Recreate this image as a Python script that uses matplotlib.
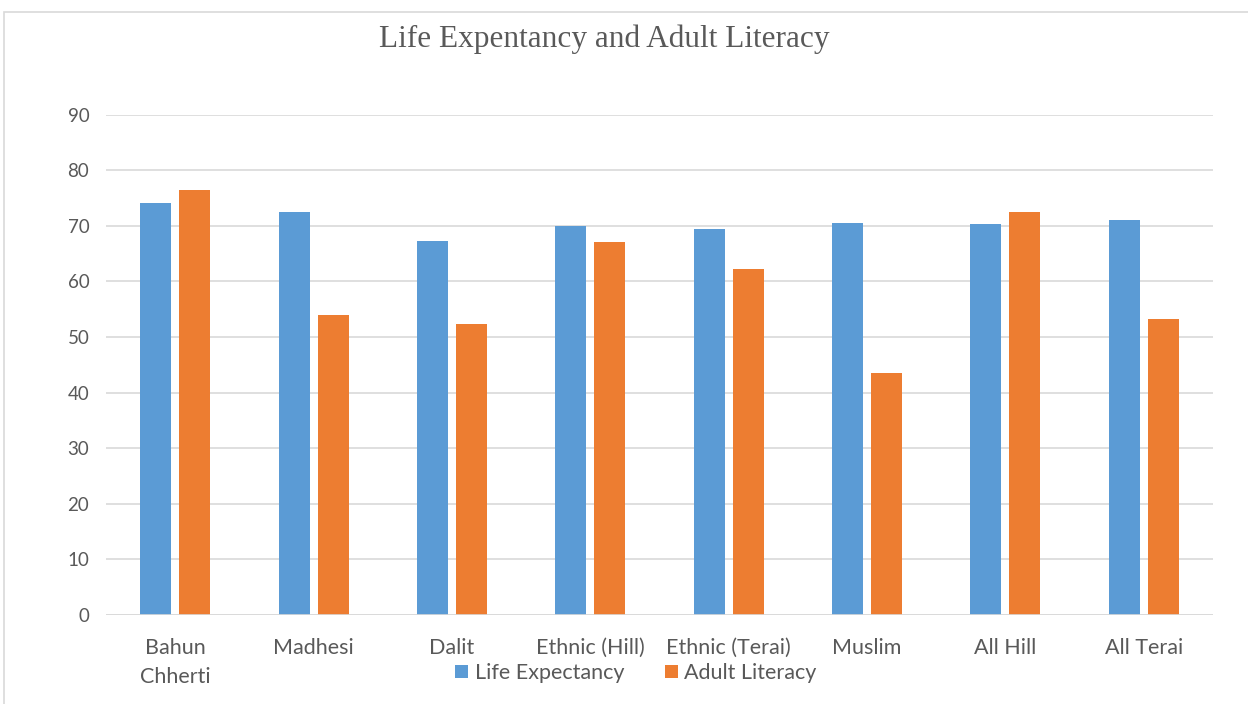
import matplotlib
matplotlib.use("Agg")
import matplotlib.pyplot as plt
import numpy as np
from matplotlib.patches import Rectangle, Patch

categories = ["Bahun\nChherti", "Madhesi", "Dalit", "Ethnic (Hill)", "Ethnic (Terai)",
              "Muslim", "All Hill", "All Terai"]
life_expectancy = [74.0, 72.4, 67.3, 69.9, 69.5, 70.5, 70.3, 71.0]
adult_literacy = [76.4, 53.9, 52.3, 67.0, 62.2, 43.5, 72.4, 53.3]
y_ticks = [0, 10, 20, 30, 40, 50, 60, 70, 80, 90]

BLUE = "#5B9BD5"
ORANGE = "#ED7D31"
TXT = "#595959"
GRID = "#D9D9D9"

plt.rcParams['font.family'] = ['Lato', 'DejaVu Sans']

W, H = 1248, 704
fig = plt.figure(figsize=(W / 100, H / 100), dpi=100)
fig.patch.set_facecolor("white")

# chart border
fig.patches.append(Rectangle((4 / W, -0.05), 1.1, (H - 12) / H + 0.05, transform=fig.transFigure,
                             fill=False, edgecolor=GRID, linewidth=1.2, zorder=0))

left, right = 106, 1213
top, bottom = 114.5, 615
ax = fig.add_axes([left / W, 1 - bottom / H, (right - left) / W, (bottom - top) / H])

x = np.arange(len(categories))
bw = 0.224
off = 0.141
ax.bar(x - off, life_expectancy, bw, color=BLUE, label="Life Expectancy", zorder=3)
ax.bar(x + off, adult_literacy, bw, color=ORANGE, label="Adult Literacy", zorder=3)

ax.set_xlim(-0.5, len(categories) - 0.5)
ax.set_ylim(0, 90)
ax.set_yticks(y_ticks)
ax.set_xticks(x)
ax.set_xticklabels(categories)
ax.tick_params(axis="y", length=0, labelsize=13.5, colors=TXT, pad=12)
ax.tick_params(axis="x", length=0, labelsize=15.5, colors=TXT, pad=16.5)
for lbl in ax.get_xticklabels():
    lbl.set_linespacing(1.55)
    lbl.set_verticalalignment("top")
ax.grid(axis="y", color=GRID, linewidth=1.2, zorder=0)
for s in ax.spines.values():
    s.set_visible(False)
ax.axhline(0, color=GRID, linewidth=1.2, zorder=4)

fig.text(604 / W, 1 - 39 / H, "Life Expentancy and Adult Literacy", ha="center", va="center",
         fontsize=22.5, color=TXT, family=["Liberation Serif", "DejaVu Serif"])

handles = [Patch(facecolor=BLUE, label="Life Expectancy"), Patch(facecolor=ORANGE, label="Adult Literacy")]
fig.legend(handles=handles, loc="center", bbox_to_anchor=(636 / W, 1 - 673 / H), ncol=2, frameon=False,
           fontsize=15.5, labelcolor=TXT, handlelength=0.6, handleheight=0.6, handletextpad=0.3,
           columnspacing=1.9, borderpad=0.1)

fig.savefig("out.png", dpi=100, facecolor="white")
